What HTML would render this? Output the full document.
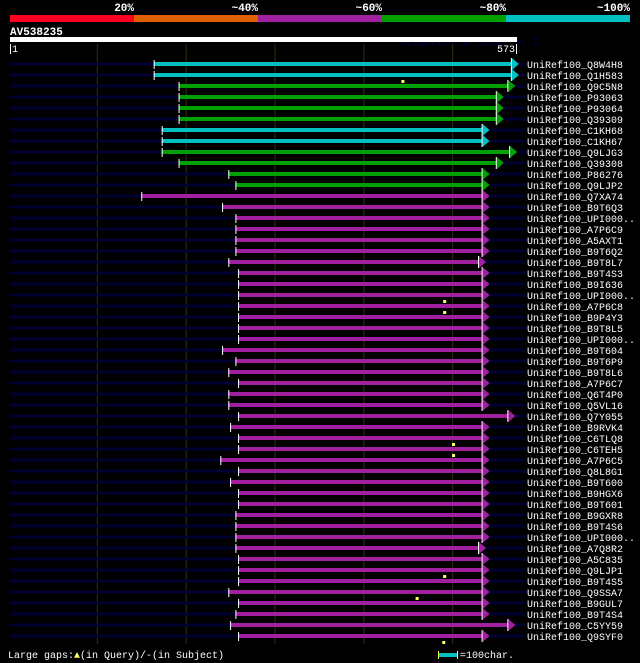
<!DOCTYPE html>
<html><head><meta charset="utf-8"><style>
body{margin:0;background:#000;width:640px;height:663px;overflow:hidden}
svg{display:block}
text{font-family:"Liberation Mono",monospace;font-size:10px;fill:#fff}
</style></head><body>
<svg id="c" width="640" height="663">
<g>
<rect x="10" y="15" width="124" height="7" fill="#ff0020"/>
<rect x="134" y="15" width="124" height="7" fill="#e06000"/>
<rect x="258" y="15" width="124" height="7" fill="#a020a0"/>
<rect x="382" y="15" width="124" height="7" fill="#00a000"/>
<rect x="506" y="15" width="124" height="7" fill="#00c0c0"/>
<text x="134" y="11" text-anchor="end" font-weight="bold" style="font-size:11px">20%</text>
<text x="258" y="11" text-anchor="end" font-weight="bold" style="font-size:11px">~40%</text>
<text x="382" y="11" text-anchor="end" font-weight="bold" style="font-size:11px">~60%</text>
<text x="506" y="11" text-anchor="end" font-weight="bold" style="font-size:11px">~80%</text>
<text x="630" y="11" text-anchor="end" font-weight="bold" style="font-size:11px">~100%</text>
</g>
<text x="10" y="35" font-weight="bold" style="font-size:11px">AV538235</text>
<text x="400" y="45" style="fill:#000050">AlignView.pm Beta rel.7</text>
<rect x="10" y="37" width="507" height="5" fill="#fff"/>
<rect x="10" y="44" width="1" height="10" fill="#fff"/>
<text x="12" y="52">1</text>
<rect x="516" y="44" width="1" height="10" fill="#fff"/>
<text x="515" y="52" text-anchor="end">573</text>
<g id="grid"></g>
<g id="rows"></g>
<text x="8" y="658">Large gaps:<tspan fill="#ffff60">▲</tspan>(in Query)/-(in Subject)</text>
<rect x="438" y="651" width="1" height="8" fill="#ffff60"/>
<rect x="439" y="653" width="18" height="4" fill="#00c0c0"/>
<rect x="457" y="651" width="1" height="8" fill="#ffff60"/>
<text x="460" y="658">=100char.</text>
</svg>
<script>
const names=["Q8W4H8","Q1H583","Q9C5N8","P93063","P93064","Q39309","C1KH68","C1KH67","Q9LJG3","Q39308","P86276","Q9LJP2","Q7XA74","B9T6Q3","UPI000..","A7P6C9","A5AXT1","B9T6Q2","B9T8L7","B9T4S3","B9I636","UPI000..","A7P6C8","B9P4Y3","B9T8L5","UPI000..","B9T604","B9T6P9","B9T8L6","A7P6C7","Q6T4P0","Q5VL16","Q7Y055","B9RVK4","C6TLQ8","C6TEH5","A7P6C5","Q8L8G1","B9T600","B9HGX6","B9T601","B9GXR8","B9T4S6","UPI000..","A7Q8R2","A5C835","Q9LJP1","B9T4S5","Q9SSA7","B9GUL7","B9T4S4","C5YY59","Q9SYF0"];
const starts=[164,164,192,192,192,192,173,173,173,192,248,256,150,241,256,256,256,256,248,259,259,259,259,259,259,259,241,256,248,259,248,248,259,250,259,259,239,259,250,259,259,256,256,256,256,259,259,259,248,259,256,250,259];
const ends=[574,574,570,557,557,557,541,541,572,557,541,541,541,541,541,541,541,541,537,541,541,541,541,541,541,541,541,541,541,541,541,541,570,541,541,541,541,541,541,541,541,541,541,541,537,541,541,541,541,541,541,570,541];
const colorIdx=[4,4,3,3,3,3,4,4,3,3,3,3,2,2,2,2,2,2,2,2,2,2,2,2,2,2,2,2,2,2,2,2,2,2,2,2,2,2,2,2,2,2,2,2,2,2,2,2,2,2,2,2,2];
const gapRow=[1,21,22,34,35,46,48,52];
const gapPos=[444,491,491,501,501,491,460,490];
const gridTicks=[100,200,300,400,500];
const colors=["#ff0020","#e06000","#a020a0","#00a000","#00c0c0"];
const X=c=>8+c*509/573, NS="http://www.w3.org/2000/svg";
function el(t,a,p){const e=document.createElementNS(NS,t);for(const k in a)e.setAttribute(k,a[k]);p.appendChild(e);return e;}
const G=document.getElementById('grid'),R=document.getElementById('rows');
gridTicks.forEach(t=>{const l=el('rect',{x:X(t),y:44,width:1,height:600,fill:'#303010'},G);

});
names.forEach((n,i)=>{
 const y=64+i*11,g=el('g',{},R);
 
 
 el('rect',{x:10,y:y-1.5,width:515,height:3,fill:'#000030'},g);
 const x1=X(starts[i]),x2=X(ends[i]),c=colors[colorIdx[i]];
 const b=el('rect',{x:x1,y:y-2,width:x2-x1-6,height:4,fill:c},g);
 
 
 el('polygon',{points:`${x2-6},${y-6} ${x2+1},${y} ${x2-6},${y+6}`,fill:c},g);
 el('rect',{x:x2-7,y:y-6,width:1,height:12,fill:'#fff'},g);
 el('rect',{x:x1,y:y-4,width:1,height:9,fill:'#fff'},g);
 const t=el('text',{x:527,y:y+4},g);t.textContent='UniRef100_'+n;
 
 
});
gapRow.forEach((r,j)=>{const y=64+r*11;const m=el('rect',{x:X(gapPos[j])-1,y:y+5,width:3,height:3,fill:'#ffff60'},R);

});
</script>
</body></html>
